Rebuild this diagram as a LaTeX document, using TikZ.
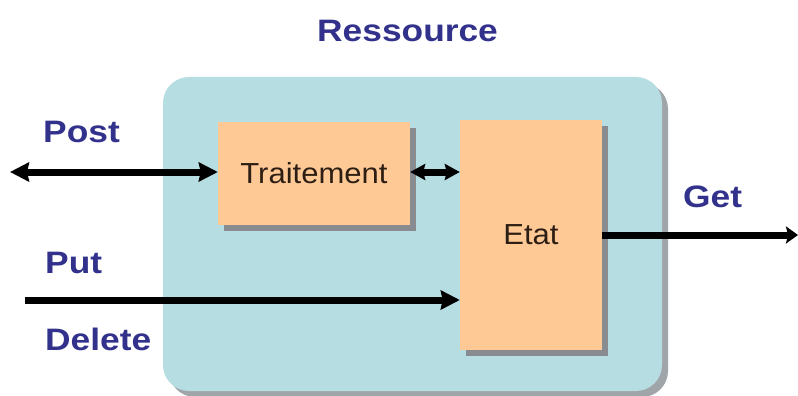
\documentclass[tikz,border=0pt]{standalone}
\usepackage{fontspec}
\setmainfont{Liberation Sans}
\newfontfamily\lblfont[FakeStretch=1.14]{Liberation Sans Bold}
\newfontfamily\boxfont[FakeStretch=1.07]{Liberation Sans}
\usetikzlibrary{arrows.meta}
\definecolor{bgcyan}{RGB}{182,221,225}
\definecolor{boxorange}{RGB}{255,201,150}
\definecolor{lblblue}{RGB}{50,50,140}
\definecolor{shadowgray}{RGB}{160,165,170}
\definecolor{boxtext}{RGB}{45,30,20}
\tikzset{
  lbl/.style={anchor=base west, inner sep=0pt, text=lblblue, font=\lblfont\fontsize{31}{36}\selectfont},
  procbox/.style={fill=boxorange, draw=none, inner sep=0pt, text=boxtext, font=\boxfont\fontsize{29}{34}\selectfont},
  conn/.style={line width=7pt, black}
}
\begin{document}
\begin{tikzpicture}[x=1pt,y=-1pt]
\useasboundingbox (0,0) rectangle (798,396);
% background resource box with shadow
\fill[shadowgray, rounded corners=26pt] (169,83) rectangle (668,397);
\fill[bgcyan, rounded corners=26pt] (163,77) rectangle (662,391);
% box shadows
\fill[shadowgray!85!black] (224,128) rectangle (416,231);
\fill[shadowgray!85!black] (466,126) rectangle (608,356);
% boxes
\node[procbox, minimum width=192pt, minimum height=103pt] (trait) at (314,173.5) {Traitement};
\node[procbox, minimum width=142pt, minimum height=230pt] (etat) at (531,235) {Etat};
% labels
\node[lbl] (res) at (317,42) {Ressource};
\node[lbl] (post) at (43,142) {Post};
\node[lbl] (put) at (45,273) {Put};
\node[lbl] (del) at (45,350) {Delete};
\node[lbl] (get) at (683,207) {Get};
% connector ends
\coordinate (postend) at (10,172);
\coordinate (putend) at (25,300);
\coordinate (getend) at (798,235);
% connectors
\draw[conn, {Stealth[length=19pt,width=19pt,inset=2pt]}-{Stealth[length=19pt,width=19pt,inset=2pt]}] (postend) -- (trait.west |- postend);
\draw[conn, {Stealth[length=15pt,width=16pt,inset=2pt]}-{Stealth[length=15pt,width=16pt,inset=2pt]}] (trait.east |- postend) -- (etat.west |- postend);
\draw[conn, -{Stealth[length=19pt,width=19pt,inset=2pt]}] (putend) -- (etat.west |- putend);
\draw[conn, -{Stealth[length=12pt,width=17pt,inset=2pt]}] (etat.east |- getend) -- (getend);
\end{tikzpicture}
\end{document}
